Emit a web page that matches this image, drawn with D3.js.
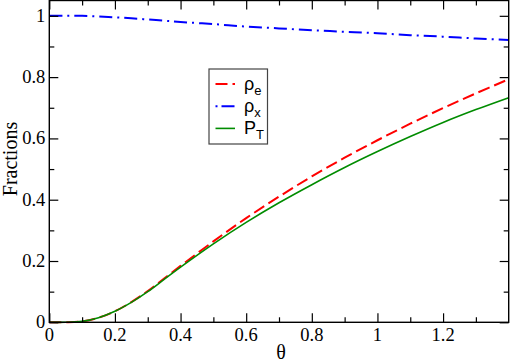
<!DOCTYPE html>
<html>
<head>
<meta charset="utf-8">
<script src="https://cdn.jsdelivr.net/npm/d3@7"></script>
<style>
  body { margin: 0; background: #fff; }
  svg { display: block; }
</style>
</head>
<body>
<div id="container"></div>
<script>
// theta values and the three curves
const theta = [0, 0.05, 0.1, 0.15, 0.2, 0.25, 0.3, 0.35, 0.4, 0.5, 0.6, 0.7, 0.8, 0.9, 1.0, 1.1, 1.2, 1.3, 1.4];
const rhoE  = [0, 0, 0.003, 0.015, 0.036, 0.066, 0.102, 0.143, 0.184, 0.264, 0.340, 0.410, 0.476, 0.537, 0.594, 0.648, 0.699, 0.747, 0.793];
const rhoX  = [1.0, 1.0, 1.0, 0.998, 0.995, 0.992, 0.988, 0.984, 0.98, 0.973, 0.965, 0.959, 0.953, 0.948, 0.943, 0.937, 0.932, 0.926, 0.921];
const pT    = [0, 0, 0.003, 0.015, 0.036, 0.065, 0.100, 0.140, 0.180, 0.256, 0.326, 0.390, 0.449, 0.505, 0.557, 0.606, 0.652, 0.694, 0.733];

const xMajor = [0, 0.2, 0.4, 0.6, 0.8, 1, 1.2];
const xMinor = [0.1, 0.3, 0.5, 0.7, 0.9, 1.1, 1.3];
const yMajor = [0, 0.2, 0.4, 0.6, 0.8, 1];
const yMinor = [0.1, 0.3, 0.5, 0.7, 0.9];

const series = [
  {name: "e", label: "ρ", sub: "e", values: rhoE, color: "#ff0000", dash: "12,5", width: 2},
  {name: "x", label: "ρ", sub: "x", values: rhoX, color: "#0000ff", dash: "13,5,2,5", width: 2},
  {name: "T", label: "P", sub: "T", values: pT, color: "#008c00", dash: null, width: 1.6}
];

const serif = "'Liberation Serif', 'Times New Roman', 'DejaVu Serif', serif";

// set dimensions
const w = 511, h = 362;
const margin = {left: 49.3, right: 2.3, top: 0.5, bottom: 39.7};

const xScale = d3.scaleLinear().domain([0, 1.4]).range([margin.left, w - margin.right]);
const yScale = d3.scaleLinear().domain([0, 1.05]).range([h - margin.bottom, margin.top]);

const svg = d3.select("#container")
              .append("svg")
              .attr("width", w)
              .attr("height", h);

// the curves
const line = d3.line()
               .x((d) => xScale(d[0]))
               .y((d) => yScale(d[1]))
               .curve(d3.curveCatmullRom.alpha(0.5));

series.forEach(function(s){
    svg.append("path")
       .datum(theta.map((t, i) => [t, s.values[i]]))
       .attr("fill", "none")
       .attr("stroke", s.color)
       .attr("stroke-width", s.width)
       .attr("stroke-dasharray", s.dash)
       .attr("d", line);
});

// axes: ticks only, all pointing inward; labels drawn separately
const plotBottom = h - margin.bottom, plotTop = margin.top;
const plotLeft = margin.left, plotRight = w - margin.right;

function axisGroup(axis, tx, ty){
    const g = svg.append("g")
                 .attr("transform", "translate(" + tx + "," + ty + ")")
                 .call(axis.tickSizeOuter(0).tickFormat(""));
    g.selectAll(".domain").remove();
    g.selectAll("line").attr("stroke", "#000").attr("stroke-width", 1.2);
    return g;
}

axisGroup(d3.axisBottom(xScale).tickValues(xMajor).tickSizeInner(-9), 0, plotBottom);
axisGroup(d3.axisBottom(xScale).tickValues(xMinor).tickSizeInner(-5), 0, plotBottom);
axisGroup(d3.axisTop(xScale).tickValues(xMajor).tickSizeInner(-9), 0, plotTop);
axisGroup(d3.axisTop(xScale).tickValues(xMinor).tickSizeInner(-5), 0, plotTop);
axisGroup(d3.axisLeft(yScale).tickValues(yMajor).tickSizeInner(-9), plotLeft, 0);
axisGroup(d3.axisLeft(yScale).tickValues(yMinor).tickSizeInner(-5), plotLeft, 0);
axisGroup(d3.axisRight(yScale).tickValues(yMajor).tickSizeInner(-9), plotRight, 0);
axisGroup(d3.axisRight(yScale).tickValues(yMinor).tickSizeInner(-5), plotRight, 0);

// tick labels
svg.append("g")
   .selectAll("text")
   .data(xMajor)
   .enter()
   .append("text")
   .attr("x", (d) => xScale(d))
   .attr("y", plotBottom + 18.5)
   .attr("text-anchor", "middle")
   .style("font-family", serif)
   .style("font-size", "18.5px")
   .text((d) => String(d));

svg.append("g")
   .selectAll("text")
   .data(yMajor)
   .enter()
   .append("text")
   .attr("x", plotLeft - 4)
   .attr("y", (d) => yScale(d) + 6)
   .attr("text-anchor", "end")
   .style("font-family", serif)
   .style("font-size", "18.5px")
   .text((d) => String(d));

// frame
svg.append("rect")
   .attr("x", plotLeft)
   .attr("y", plotTop)
   .attr("width", plotRight - plotLeft)
   .attr("height", plotBottom - plotTop)
   .attr("fill", "none")
   .attr("stroke", "#000")
   .attr("stroke-width", 1.4);

// axis titles
svg.append("text")
   .attr("x", (plotLeft + plotRight) / 2 + 2)
   .attr("y", 358.5)
   .attr("text-anchor", "middle")
   .style("font-family", serif)
   .style("font-size", "20px")
   .text("θ");

svg.append("text")
   .attr("transform", "translate(17," + 159 + ") rotate(-90)")
   .attr("text-anchor", "middle")
   .style("font-family", serif)
   .style("font-size", "20px")
   .text("Fractions");

// legend
const legend = svg.append("g").attr("transform", "translate(209,69)");
legend.append("rect")
      .attr("width", 58.5)
      .attr("height", 75)
      .attr("fill", "#fff")
      .attr("stroke", "#444")
      .attr("stroke-width", 1.2);

series.forEach(function(s, i){
    const yy = 15 + i * 22.2;
    legend.append("line")
          .attr("x1", 6.5).attr("x2", 26)
          .attr("y1", yy).attr("y2", yy)
          .attr("stroke", s.color)
          .attr("stroke-width", s.width)
          .attr("stroke-dasharray", s.name === "x" ? "2,4,13,5" : s.dash);
    const t = legend.append("text")
                    .attr("x", 35)
                    .attr("y", yy + 6)
                    .style("font-family", "'Liberation Sans', sans-serif")
                    .style("font-size", "18px");
    t.append("tspan").text(s.label);
    t.append("tspan").attr("dy", 5).style("font-size", "13px").text(s.sub);
});
</script>
</body>
</html>
